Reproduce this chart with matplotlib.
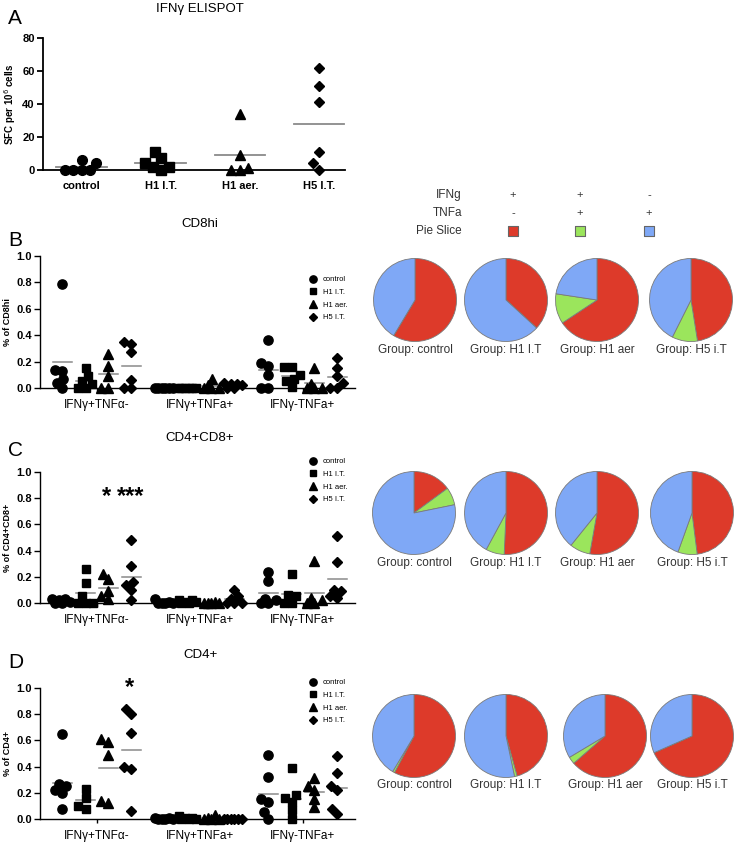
import numpy as np
import matplotlib
matplotlib.use("Agg")
import matplotlib.pyplot as plt
from matplotlib.lines import Line2D

plt.rcParams['font.family'] = ['Liberation Sans', 'DejaVu Sans']

# ---------------- data ----------------
groups = ['control', 'H1 I.T.', 'H1 aer.', 'H5 I.T.']
subsets = ['IFNγ+TNFα-', 'IFNγ+TNFa+', 'IFNγ-TNFa+']

# Panel A: IFNg ELISPOT (SFC per 10^6 cells)
elispot_control = [4, 0, 0, 0, 0, 6]
elispot_h1it = [2, 0, 11, 2, 7, 4.5]
elispot_h1aer = [1, 0, 0, 9, 34]
elispot_h5it = [0, 62, 51, 41, 11, 4]

# Panel B: CD8hi (% of CD8hi), one list per subset
cd8_control = [[0.79, 0.14, 0.13, 0.07, 0.04, 0.0], [0, 0, 0, 0, 0, 0], [0.36, 0.19, 0.17, 0.10, 0.0, 0.0]]
cd8_h1it = [[0.15, 0.09, 0.05, 0.03, 0.0, 0.0], [0, 0, 0, 0, 0, 0], [0.16, 0.16, 0.10, 0.07, 0.05, 0.01]]
cd8_h1aer = [[0.26, 0.17, 0.09, 0.0, 0.0], [0.07, 0.02, 0.0, 0.0, 0.0], [0.15, 0.03, 0.0, 0.0, 0.0]]
cd8_h5it = [[0.35, 0.33, 0.27, 0.06, 0.0, 0.0], [0.04, 0.03, 0.03, 0.02, 0.0, 0.0], [0.23, 0.15, 0.09, 0.04, 0.0, 0.0]]

# Panel C: CD4+CD8+
dp_control = [[0.03, 0.03, 0.02, 0.01, 0.0, 0.0], [0.03, 0.01, 0, 0, 0, 0], [0.24, 0.17, 0.03, 0.02, 0.0, 0.0]]
dp_h1it = [[0.26, 0.15, 0.05, 0.0, 0.0, 0.0], [0.02, 0.02, 0.01, 0.01, 0.0, 0.0], [0.22, 0.06, 0.05, 0.0, 0.0]]
dp_h1aer = [[0.22, 0.18, 0.09, 0.05, 0.03], [0.01, 0.0, 0.0, 0.0, 0.0], [0.32, 0.04, 0.02, 0.0, 0.0]]
dp_h5it = [[0.48, 0.28, 0.16, 0.14, 0.10, 0.02], [0.10, 0.05, 0.03, 0.0, 0.0, 0.0], [0.51, 0.31, 0.10, 0.09, 0.05, 0.04]]

# Panel D: CD4+
cd4_control = [[0.65, 0.27, 0.25, 0.22, 0.20, 0.08], [0.01, 0.01, 0.0, 0.0, 0.0, 0.0], [0.49, 0.32, 0.15, 0.13, 0.05, 0.0]]
cd4_h1it = [[0.23, 0.16, 0.10, 0.08], [0.02, 0.01, 0.01, 0.0, 0.0, 0.0], [0.39, 0.18, 0.16, 0.13, 0.07, 0.0]]
cd4_h1aer = [[0.61, 0.59, 0.49, 0.14, 0.12], [0.03, 0.01, 0.0, 0.0, 0.0], [0.31, 0.25, 0.22, 0.15, 0.09]]
cd4_h5it = [[0.84, 0.80, 0.66, 0.40, 0.38, 0.06], [0, 0, 0, 0, 0, 0], [0.48, 0.35, 0.25, 0.22, 0.08, 0.04]]

# Pie charts: fractions of IFNg+TNFa- (red), IFNg+TNFa+ (green), IFNg-TNFa+ (blue)
pie_labels = ['Group: control', 'Group: H1 I.T', 'Group: H1 aer', 'Group: H5 i.T']
cd8_pie_red = [0.586, 0.368, 0.657, 0.475]
cd8_pie_green = [0.0, 0.0, 0.117, 0.099]
cd8_pie_blue = [0.414, 0.632, 0.226, 0.426]
dp_pie_red = [0.149, 0.507, 0.528, 0.480]
dp_pie_green = [0.069, 0.072, 0.080, 0.075]
dp_pie_blue = [0.782, 0.421, 0.392, 0.445]
cd4_pie_red = [0.578, 0.457, 0.636, 0.684]
cd4_pie_green = [0.008, 0.010, 0.028, 0.0]
cd4_pie_blue = [0.414, 0.533, 0.336, 0.316]

legend_rows = ['IFNg', 'TNFa', 'Pie Slice']
legend_ifng = ['+', '+', '-']
legend_tnfa = ['-', '+', '+']

# ---------------- style ----------------
W, H = 736, 847
fig = plt.figure(figsize=(W / 100, H / 100), dpi=100)
markers = ['o', 's', '^', 'D']
msizes = [7.0, 6.5, 7.0, 5.6]
pie_colors = ['#DD3A2A', '#9BE55C', '#7FA8F6']
mean_color = '#8a8a8a'


def ax_px(x0, y0, x1, y1):
    return fig.add_axes([x0 / W, 1 - y1 / H, (x1 - x0) / W, (y1 - y0) / H])


def swarm(vals, center, ppx, ppy, D=8.0, wmax=11.0):
    """Greedy beeswarm layout (pixel space) with a capped half-width."""
    vals = np.asarray(vals, float)
    order = np.argsort(vals, kind='stable')
    cands = [0.0]
    k = 0.5
    while k <= wmax + 1e-9:
        cands += [-k, k]
        k += 0.5
    placed = []
    offs = np.zeros(len(vals))
    for i in order:
        y = vals[i] * ppy
        best, bestd = 0.0, -1.0
        for c in cands:
            d = min([np.hypot(c - px, y - py) for px, py in placed], default=1e9)
            if d >= D:
                best = c
                break
            if d > bestd:
                best, bestd = c, d
        placed.append((best, y))
        offs[i] = best
    return center + offs / ppx


def style_axes(ax, lw=1.1):
    for s in ['top', 'right']:
        ax.spines[s].set_visible(False)
    ax.spines['left'].set_linewidth(lw)
    ax.spines['bottom'].set_linewidth(lw)
    ax.tick_params(axis='y', direction='out', length=4, width=lw, labelsize=8, pad=2)
    ax.tick_params(axis='x', direction='out', length=3, width=lw, pad=5)
    for lab in ax.get_yticklabels():
        lab.set_fontweight('bold')


# ---------------- Panel A ----------------
axA = ax_px(43, 38, 345, 170)
ppxA = 79.0
ppyA = 132 / 80
elispot = [elispot_control, elispot_h1it, elispot_h1aer, elispot_h5it]
for gi, vals in enumerate(elispot):
    xs = swarm(vals, gi, ppxA, ppyA, D=8.5, wmax=22)
    axA.plot(xs, vals, ls='none', marker=markers[gi], ms=msizes[gi], color='black', clip_on=False, zorder=3)
    m = np.mean(vals)
    axA.plot([gi - 0.32, gi + 0.32], [m, m], color=mean_color, lw=1.3, zorder=2, clip_on=False)
axA.set_xlim(-0.49, 3.33)
axA.set_ylim(0, 80)
axA.set_yticks([0, 20, 40, 60, 80])
axA.set_xticks(range(4))
axA.set_xticklabels(groups, fontsize=8, fontweight='bold')
style_axes(axA, 1.3)
axA.set_ylabel('SFC per 10$^6$ cells', fontsize=7, fontweight='bold', labelpad=3)
fig.text(200 / W, 1 - 9 / H, 'IFNγ ELISPOT', ha='center', va='center', fontsize=9.5)
fig.text(8 / W, 1 - 19 / H, 'A', ha='left', va='center', fontsize=15)

# ---------------- Panels B, C, D ----------------
panels = [
    ('B', 'CD8hi', '% of CD8hi', 256, 388, [cd8_control, cd8_h1it, cd8_h1aer, cd8_h5it], 224, 240, 276),
    ('C', 'CD4+CD8+', '% of CD4+CD8+', 472, 603, [dp_control, dp_h1it, dp_h1aer, dp_h5it], 438, 450, 458),
    ('D', 'CD4+', '% of CD4+', 688, 819, [cd4_control, cd4_h1it, cd4_h1aer, cd4_h5it], 655, 662, 679),
]
sub_off = [-0.335, -0.11, 0.11, 0.335]
ppx = 103.0
axes_bcd = []
for letter, title, ylab, ytop, ybot, data, ty, ly, legy in panels:
    ax = ax_px(40, ytop, 355, ybot)
    ppy = (ybot - ytop) / 1.0
    for si in range(3):
        for gi in range(4):
            vals = data[gi][si]
            c = si + sub_off[gi]
            xs = swarm(vals, c, ppx, ppy, D=7.5, wmax=10)
            ax.plot(xs, vals, ls='none', marker=markers[gi], ms=msizes[gi] * 0.95, color='black',
                    clip_on=False, zorder=3)
            m = np.mean(vals)
            ax.plot([c - 0.09, c + 0.09], [m, m], color=mean_color, lw=1.1, zorder=2, clip_on=False)
    ax.set_xlim(-0.553, 2.505)
    ax.set_ylim(0, 1.0)
    ax.set_yticks([0.0, 0.2, 0.4, 0.6, 0.8, 1.0])
    ax.set_yticklabels(['0.0', '0.2', '0.4', '0.6', '0.8', '1.0'])
    ax.set_xticks(range(3))
    ax.set_xticklabels(subsets, fontsize=8.5)
    style_axes(ax, 1.0)
    ax.set_ylabel(ylab, fontsize=6.5, fontweight='bold', labelpad=3)
    fig.text(200 / W, 1 - ty / H, title, ha='center', va='center', fontsize=9.5)
    fig.text(8 / W, 1 - ly / H, letter, ha='left', va='center', fontsize=15)
    handles = [Line2D([], [], ls='none', marker=markers[i], ms=msizes[i] * 0.75, color='black') for i in range(4)]
    ax.legend(handles, groups, loc='upper left', bbox_to_anchor=(309 / W, 1 - legy / H),
              bbox_transform=fig.transFigure, frameon=False, fontsize=5.5, handlelength=1.0,
              handletextpad=0.8, labelspacing=0.7, borderpad=0, borderaxespad=0)
    axes_bcd.append(ax)

# significance stars
axC = axes_bcd[1]
axC.text(0 + sub_off[2] - 0.02, 0.81, '*', ha='center', va='center', fontsize=17, fontweight='bold')
axC.text(0 + sub_off[3] - 0.005, 0.81, '***', ha='center', va='center', fontsize=17, fontweight='bold')
axD = axes_bcd[2]
axD.text(0 + sub_off[3] - 0.02, 1.0, '*', ha='center', va='center', fontsize=17, fontweight='bold', clip_on=False)

# ---------------- Pie legend header ----------------
col_x = [513, 580, 649]
row_y = [195, 213, 231]
for r, (lab, y) in enumerate(zip(legend_rows, row_y)):
    fig.text(462 / W, 1 - y / H, lab, ha='right', va='center', fontsize=8.5, color='#333333')
for j, x in enumerate(col_x):
    fig.text(x / W, 1 - row_y[0] / H, legend_ifng[j], ha='center', va='center', fontsize=8, color='#333333')
    fig.text(x / W, 1 - row_y[1] / H, legend_tnfa[j], ha='center', va='center', fontsize=8, color='#333333')
legax = ax_px(480, 221, 680, 241)
legax.set_xlim(480, 680)
legax.set_ylim(241, 221)
legax.axis('off')
legax.scatter(col_x, [231] * 3, marker='s', s=45, c=pie_colors, edgecolors='#666666', linewidths=0.8)

# ---------------- Pies ----------------
pie_rows = [
    (300, 350, [415, 506, 597, 691], cd8_pie_red, cd8_pie_green, cd8_pie_blue),
    (513, 563, [414, 506, 597, 692], dp_pie_red, dp_pie_green, dp_pie_blue),
    (736, 785, [414, 506, 605, 692], cd4_pie_red, cd4_pie_green, cd4_pie_blue),
]
R = 41.5
for cy, label_y, cxs, reds, greens, blues in pie_rows:
    for k, cx in enumerate(cxs):
        pax = ax_px(cx - R - 1, cy - R - 1, cx + R + 1, cy + R + 1)
        pax.pie([reds[k], greens[k], blues[k]], colors=pie_colors, startangle=90, counterclock=False,
                radius=R / (R + 1), wedgeprops=dict(edgecolor='#7a7a7a', linewidth=0.6))
        pax.set_xlim(-1, 1)
        pax.set_ylim(-1, 1)
        pax.set_aspect('equal')
        fig.text(cx / W, 1 - label_y / H, pie_labels[k], ha='center', va='center', fontsize=8.5, color='#333333')

fig.savefig('out.png', dpi=100)
